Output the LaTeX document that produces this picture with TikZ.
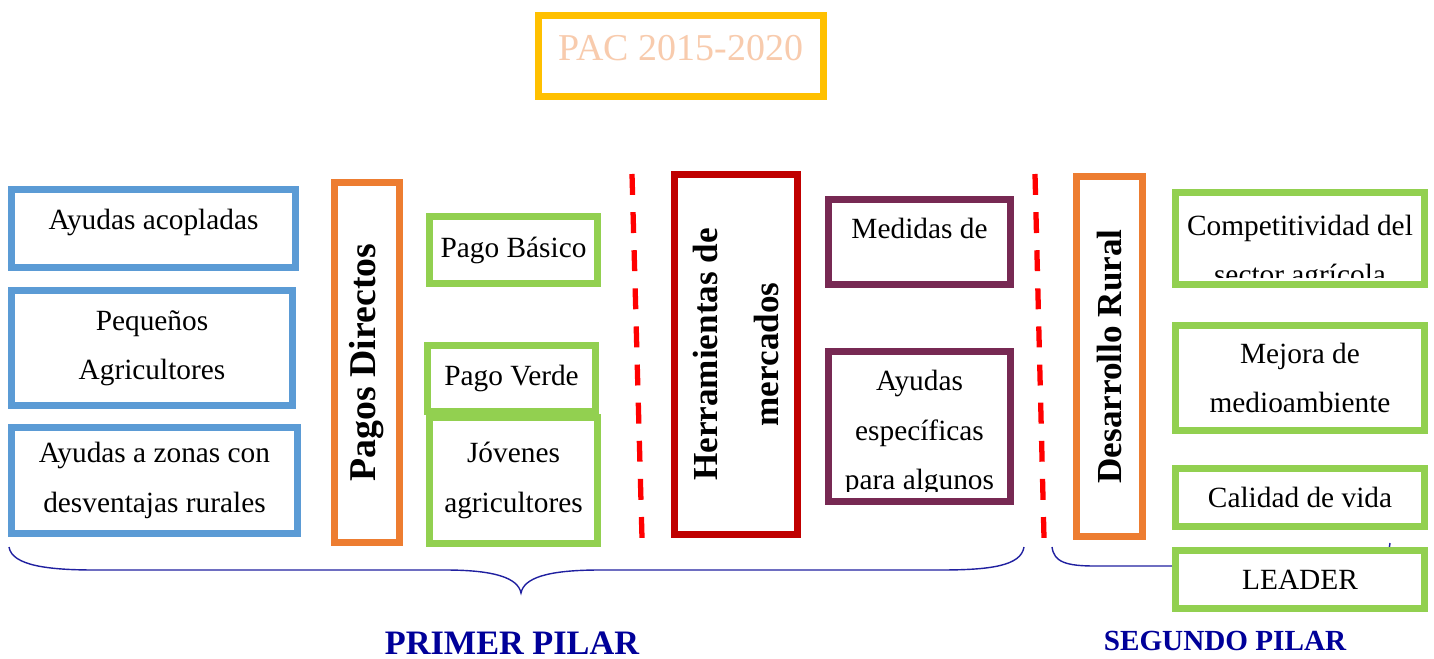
\documentclass[tikz,border=0pt]{standalone}
\usepackage{fontspec}
\setmainfont{Liberation Serif}
\usepackage{tikz}
\definecolor{pacyellow}{HTML}{FFC000}
\definecolor{pacpeach}{HTML}{F8CBAD}
\definecolor{pacblue}{HTML}{5B9BD5}
\definecolor{pacgreen}{HTML}{92D050}
\definecolor{pacorange}{HTML}{ED7D31}
\definecolor{pacdarkred}{HTML}{C00000}
\definecolor{pacwine}{HTML}{772953}
\definecolor{pacred}{HTML}{FF0000}
\definecolor{pilarnavy}{HTML}{000099}
\definecolor{bracenavy}{HTML}{2020A0}
\tikzset{boxtext/.style={inner sep=0pt, align=center, font=\fontsize{16.7}{28}\selectfont}}
\tikzset{box/.style={boxtext, draw, line width=4pt, fill=white}}
\tikzset{titlebox/.style={box, draw=pacyellow, text=pacpeach, font=\fontsize{21.6}{25}\selectfont}}
\tikzset{bluebox/.style={box, draw=pacblue}}
\tikzset{greenbox/.style={box, draw=pacgreen}}
\tikzset{winebox/.style={box, draw=pacwine}}
\tikzset{vbar/.style={box, rotate=90, font=\bfseries\fontsize{20}{35}\selectfont}}
\tikzset{orangebar/.style={vbar, draw=pacorange}}
\tikzset{redbar/.style={vbar, draw=pacdarkred}}
\tikzset{divider/.style={draw=pacred, line width=3pt, dash pattern=on 11.9pt off 9.8pt}}
\tikzset{pilarbrace/.style={draw=bracenavy, line width=0.8pt}}
\tikzset{pilar/.style={text=pilarnavy, inner sep=0pt, anchor=base}}

\begin{document}
\begin{tikzpicture}[x=0.02cm, y=-0.02cm]
	\useasboundingbox (0,0) rectangle (1434,659);

	% braces under the boxes
	\coordinate (pilar1w) at (9,547);
	\coordinate (pilar1e) at (1024,547);
	\coordinate (pilar2w) at (1052,547);
	\coordinate (pilar2e) at (1390,543);
	\draw[pilarbrace] (pilar1w) .. controls (12,566) and (50,570) .. (95,570) -- (445,570)
		.. controls (495,570) and (518,578) .. (521,593)
		.. controls (524,578) and (547,570) .. (600,570) -- (940,570)
		.. controls (990,570) and (1021,566) .. (pilar1e);
	\draw[pilarbrace] (pilar2w) .. controls (1054,562) and (1066,566) .. (1095,566) -- (1170,566)
		.. controls (1205,566) and (1219,574) .. (1221,588)
		.. controls (1223,574) and (1237,566) .. (1272,566) -- (1350,566)
		.. controls (1378,566) and (1388,562) .. (pilar2e);

	% dashed dividers
	\coordinate (cut1a) at (632,174);
	\coordinate (cut1b) at (642,538);
	\coordinate (cut2a) at (1035,174);
	\coordinate (cut2b) at (1044,538);
	\draw[divider] (cut1a) -- (cut1b);
	\draw[divider] (cut2a) -- (cut2b);

	\node[titlebox, minimum width=5.70cm, minimum height=1.62cm, text depth=9.6pt] (pac) at (681,56) {PAC 2015-2020};

	% primer pilar
	\node[bluebox, minimum width=5.68cm, minimum height=1.56cm, text depth=10.5pt] (acopladas) at (153.5,228.5) {Ayudas acopladas};
	\node[bluebox, minimum width=5.62cm, minimum height=2.30cm] (pequenos) at (152,348) {Pequeños\\Agricultores};
	\node[bluebox, minimum width=5.72cm, minimum height=2.12cm] (zonas) at (154.5,480.5) {Ayudas a zonas con\\desventajas rurales};
	\node[orangebar, minimum width=7.20cm, minimum height=1.30cm, font=\bfseries\fontsize{21.5}{35}\selectfont] (pagos) at (367,362.5) {Pagos Directos};
	\node[greenbox, minimum width=3.36cm, minimum height=1.34cm] (basico) at (513.5,250) {Pago Básico};
	\node[greenbox, minimum width=3.36cm, minimum height=1.32cm] (verde) at (511.5,378.5) {Pago Verde};
	\node[greenbox, minimum width=3.36cm, minimum height=2.52cm] (jovenes) at (513.5,480.5) {Jóvenes\\agricultores};
	\node[redbar, minimum width=7.20cm, minimum height=2.46cm] (mercados) at (736,354.5) {Herramientas de\\mercados};
	\node[winebox, minimum width=3.64cm, minimum height=1.70cm] (medidas) at (919.5,242) {};
	\node[winebox, minimum width=3.64cm, minimum height=3.00cm] (especificas) at (919.5,426.5) {};

	% segundo pilar
	\node[orangebar, minimum width=7.20cm, minimum height=1.32cm] (rural) at (1109.5,356.5) {Desarrollo Rural};
	\node[greenbox, minimum width=4.98cm, minimum height=1.84cm] (competitividad) at (1300,238.5) {};
	\node[greenbox, minimum width=4.98cm, minimum height=2.10cm] (medio) at (1300,378) {Mejora de\\medioambiente};
	\node[greenbox, minimum width=4.98cm, minimum height=1.16cm] (calidad) at (1300,497.5) {Calidad de vida};
	\node[greenbox, minimum width=4.98cm, minimum height=1.16cm] (leader) at (1300,579.5) {LEADER};

	% texts that overflow their boxes
	\begin{scope}
		\clip ([xshift=4pt,yshift=-4pt]medidas.north west) rectangle ([xshift=-4pt,yshift=4pt]medidas.south east);
		\node[boxtext] (medidastext) at (919.5,228.8) {Medidas de};
	\end{scope}
	\begin{scope}
		\clip ([xshift=4pt,yshift=-4pt]especificas.north west) rectangle ([xshift=-4pt,yshift=7.9pt]especificas.south east);
		\node[boxtext] (especificastext) at (919.5,433) {Ayudas\\específicas\\para algunos};
	\end{scope}
	\begin{scope}
		\clip ([xshift=4pt,yshift=-4pt]competitividad.north west) rectangle ([xshift=-4pt,yshift=6.2pt]competitividad.south east);
		\node[boxtext] (competitividadtext) at (1300,253) {Competitividad del\\sector agrícola};
	\end{scope}

	\node[pilar, font=\bfseries\fontsize{19.5}{23}\selectfont] (primer) at (512,654) {PRIMER PILAR};
	\node[pilar, font=\bfseries\fontsize{16.6}{20}\selectfont] (segundo) at (1225,650) {SEGUNDO PILAR};
\end{tikzpicture}
\end{document}
